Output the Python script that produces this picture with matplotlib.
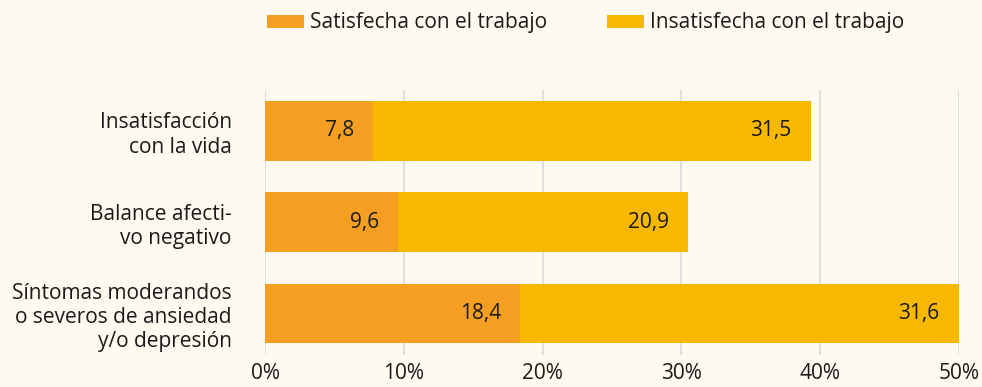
import matplotlib
matplotlib.use("Agg")
import matplotlib.pyplot as plt
import numpy as np

categories = [
    "Insatisfacción\ncon la vida",
    "Balance afecti-\nvo negativo",
    "Síntomas moderandos\no severos de ansiedad\ny/o depresión",
]
satisfecha = [7.8, 9.6, 18.4]
insatisfecha = [31.5, 20.9, 31.6]
series_names = ["Satisfecha con el trabajo", "Insatisfecha con el trabajo"]
x_ticks = [0, 10, 20, 30, 40, 50]
x_tick_labels = ["0%", "10%", "20%", "30%", "40%", "50%"]

BG = "#FEFAF0"
C_SAT = "#F49E22"
C_INS = "#F9B800"
TXT = "#1A1A1A"
GRID = "#D8D8D8"
FS = 15

plt.rcParams["font.family"] = ["Open Sans", "DejaVu Sans"]

fig = plt.figure(figsize=(9.82, 3.87), dpi=100, facecolor=BG)
ax = fig.add_axes([0.2699, 0.0827, 0.7067, 0.6847], facecolor=BG)

y = np.arange(len(categories))
h = 0.65
b1 = ax.barh(y, satisfecha, height=h, color=C_SAT, label=series_names[0], zorder=2)
b2 = ax.barh(y, insatisfecha, left=satisfecha, height=h, color=C_INS,
             label=series_names[1], zorder=2)

def fmt(v):
    return f"{v:.1f}".replace(".", ",")

# value labels sit inside each segment, right-aligned near its end
for i in range(len(categories)):
    s = satisfecha[i]
    t = insatisfecha[i]
    ax.text(s - 1.4, y[i], fmt(s), ha="right", va="center", fontsize=FS,
            color=TXT, zorder=3)
    ax.text(s + t - 1.4, y[i], fmt(t), ha="right", va="center", fontsize=FS,
            color=TXT, zorder=3)

ax.set_xlim(0, 50)
ax.set_ylim(2.46, -0.45)
ax.set_xticks(x_ticks)
ax.set_xticklabels(x_tick_labels, fontsize=FS, color=TXT)
ax.set_yticks(y)
ax.set_yticklabels(categories, fontsize=FS, color=TXT, linespacing=1.2)
ax.tick_params(axis="both", length=0)
ax.tick_params(axis="y", pad=24)
ax.tick_params(axis="x", pad=6)
ax.xaxis.grid(True, color=GRID, linewidth=1.1, zorder=0)
ax.set_axisbelow(True)
for sp in ax.spines.values():
    sp.set_visible(False)

fig.legend(handles=[b1, b2], labels=series_names, loc="center",
           bbox_to_anchor=(0.5963, 0.9406), ncol=2, frameon=False,
           fontsize=FS, handlelength=1.78, handleheight=0.58,
           handletextpad=0.3, columnspacing=2.85, labelcolor=TXT)

fig.savefig("out.png", dpi=100, facecolor=BG)
